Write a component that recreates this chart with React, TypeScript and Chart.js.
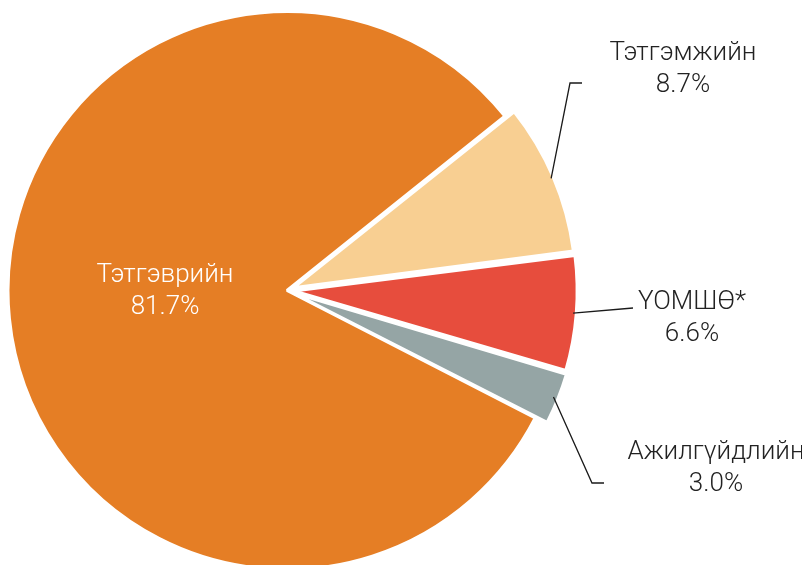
import { useEffect, useRef } from 'react';
import { Chart, registerables } from 'chart.js';

Chart.register(...registerables);

const categories = ['Тэтгэврийн', 'Тэтгэмжийн', 'ҮОМШӨ*', 'Ажилгүйдлийн'];
const shares = [81.7, 8.7, 6.6, 3.0];
const valueLabels = ['81.7%', '8.7%', '6.6%', '3.0%'];
const colors = ['#E57E25', '#F8CF92', '#E74D3D', '#95A5A5'];
const sliceOffsets = [0, 28, 28, 28];

// label layout (canvas pixels): text centre x, first baseline y, optional connector bend/end points
const labelLayout = [
  { tx: 157, ty: 274, color: '#FFFFFF', line: null as null | number[][] },
  { tx: 675, ty: 52, color: '#222222', line: [[562, 75], [574, 75]] },
  { tx: 684, ty: 301, color: '#222222', line: [[625, 300]] },
  { tx: 708, ty: 451, color: '#222222', line: [[584, 475], [596, 475]] },
];

const labelPlugin = {
  id: 'pieLabels',
  afterDatasetsDraw(chart: any) {
    const ctx = chart.ctx as CanvasRenderingContext2D;
    const meta = chart.getDatasetMeta(0);
    ctx.save();
    meta.data.forEach((el: any, i: number) => {
      const { x, y, startAngle, endAngle, outerRadius } = el.getProps(
        ['x', 'y', 'startAngle', 'endAngle', 'outerRadius'],
        true
      );
      const lay = labelLayout[i];
      if (lay.line) {
        const mid = (startAngle + endAngle) / 2;
        const t = sliceOffsets[i] / 4;
        const r = outerRadius + t + 1;
        ctx.beginPath();
        ctx.moveTo(x + Math.cos(mid) * r, y + Math.sin(mid) * r);
        lay.line.forEach((p) => ctx.lineTo(p[0], p[1]));
        ctx.strokeStyle = '#1a1a1a';
        ctx.lineWidth = 1.3;
        ctx.stroke();
      }
      ctx.fillStyle = lay.color;
      ctx.font = '300 26px Roboto';
      ctx.textAlign = 'center';
      ctx.textBaseline = 'alphabetic';
      ctx.fillText(categories[i], lay.tx, lay.ty);
      ctx.fillText(valueLabels[i], lay.tx, lay.ty + 32);
    });
    ctx.restore();
  },
};

export default function App() {
  const ref = useRef<HTMLCanvasElement>(null);
  useEffect(() => {
    if (!ref.current) return;
    const chart = new Chart(ref.current, {
      type: 'pie',
      data: {
        labels: categories,
        datasets: [
          {
            data: shares,
            backgroundColor: colors,
            borderColor: '#FFFFFF',
            borderWidth: 3,
            offset: sliceOffsets,
          },
        ],
      },
      options: {
        animation: false,
        responsive: false,
        rotation: 117.2,
        radius: 279,
        layout: { padding: { left: 0, right: 244, top: 8, bottom: 0 } },
        plugins: {
          legend: { display: false },
          tooltip: { enabled: false },
        },
      },
      plugins: [labelPlugin],
    });
    return () => chart.destroy();
  }, []);
  return (
    <div style={{ width: 802, height: 557 }}>
      <canvas ref={ref} width={802} height={557} style={{ display: 'block' }} />
    </div>
  );
}
